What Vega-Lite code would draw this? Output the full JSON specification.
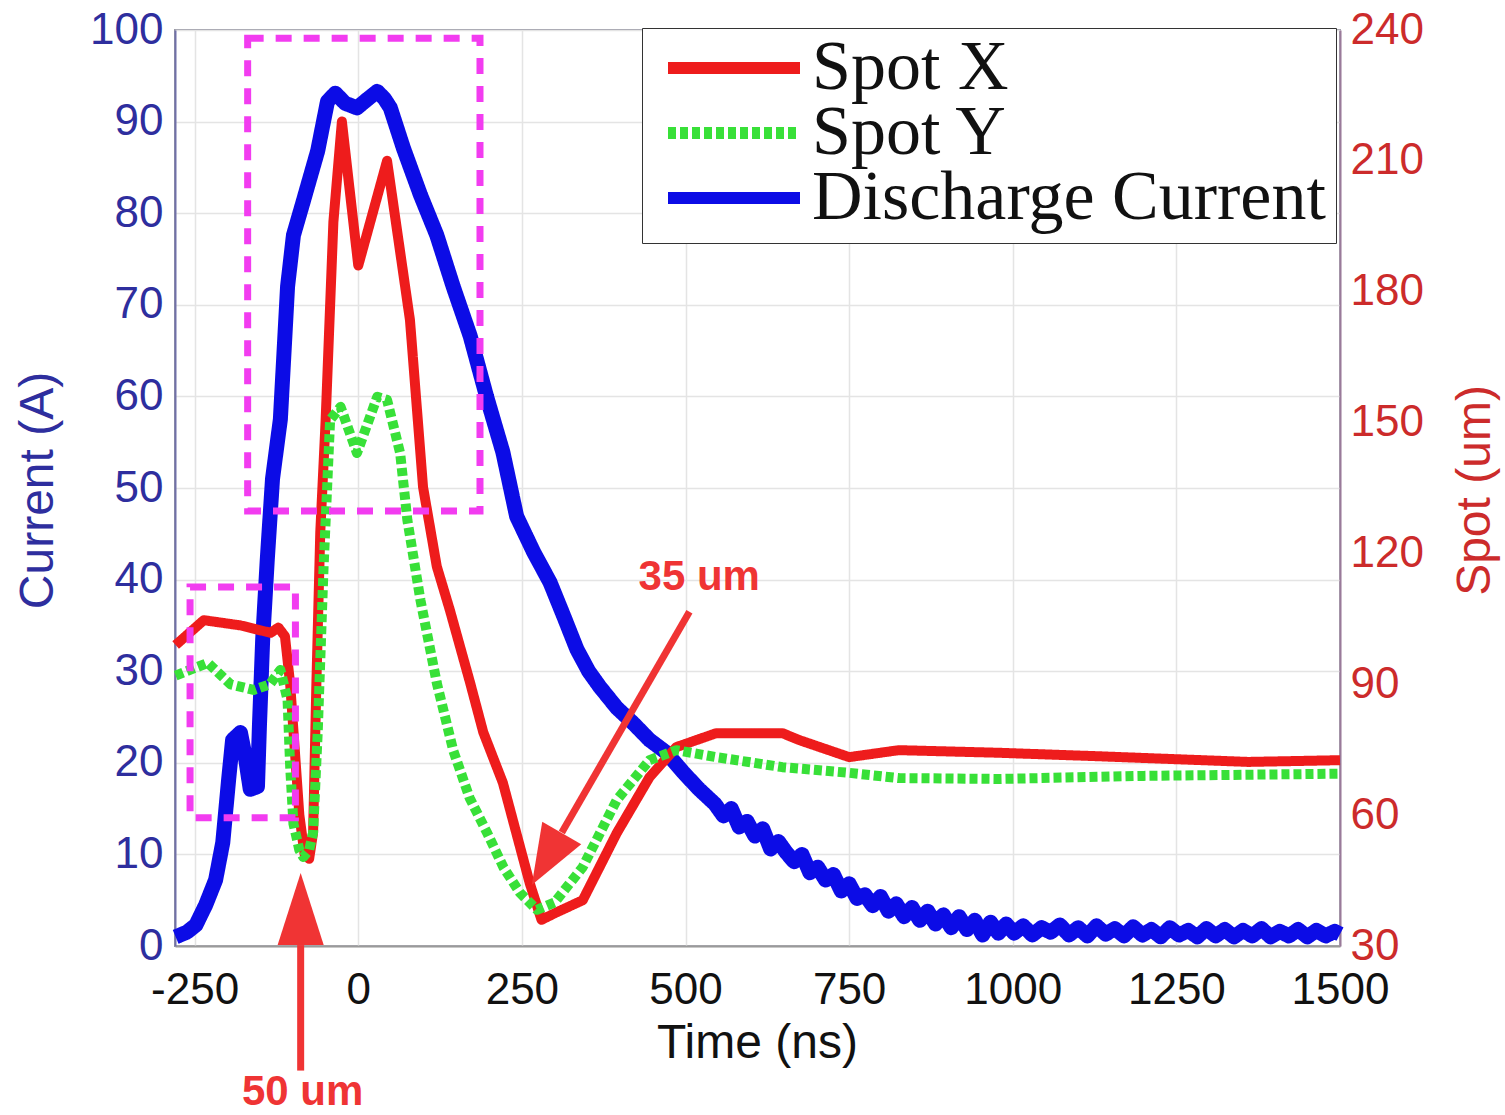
{
  "$schema": "https://vega.github.io/schema/vega-lite/v6.json",
  "width": 1165,
  "height": 916,
  "autosize": "none",
  "padding": {"left": 175, "top": 30, "right": 165, "bottom": 169},
  "background": "white",
  "config": {
    "view": {"stroke": "#9a9aa6", "strokeWidth": 2},
    "axis": {
      "labelFont": "Liberation Sans",
      "labelFontSize": 44,
      "titleFont": "Liberation Sans",
      "titleFontSize": 48,
      "titleFontWeight": "normal",
      "gridColor": "#e4e4e4",
      "gridWidth": 1.5,
      "ticks": false,
      "labelFlush": false,
      "labelOverlap": false,
      "domainWidth": 2
    }
  },
  "datasets": {
    "current": [
      {"series": "Discharge Current", "t": -279, "v": 1.0},
      {"series": "Discharge Current", "t": -262, "v": 1.5},
      {"series": "Discharge Current", "t": -248, "v": 2.3},
      {"series": "Discharge Current", "t": -233, "v": 4.5},
      {"series": "Discharge Current", "t": -218, "v": 7.2},
      {"series": "Discharge Current", "t": -207, "v": 11.3},
      {"series": "Discharge Current", "t": -198, "v": 18.2},
      {"series": "Discharge Current", "t": -192, "v": 22.5},
      {"series": "Discharge Current", "t": -180, "v": 23.3},
      {"series": "Discharge Current", "t": -172, "v": 20.4},
      {"series": "Discharge Current", "t": -165, "v": 17.1},
      {"series": "Discharge Current", "t": -154, "v": 17.4},
      {"series": "Discharge Current", "t": -151, "v": 24},
      {"series": "Discharge Current", "t": -146, "v": 33.5},
      {"series": "Discharge Current", "t": -139, "v": 42.2},
      {"series": "Discharge Current", "t": -131, "v": 51},
      {"series": "Discharge Current", "t": -119, "v": 57.5},
      {"series": "Discharge Current", "t": -108, "v": 72},
      {"series": "Discharge Current", "t": -99, "v": 77.6},
      {"series": "Discharge Current", "t": -84, "v": 81.3},
      {"series": "Discharge Current", "t": -62, "v": 86.8},
      {"series": "Discharge Current", "t": -47, "v": 92.2},
      {"series": "Discharge Current", "t": -35, "v": 93.1},
      {"series": "Discharge Current", "t": -20, "v": 92},
      {"series": "Discharge Current", "t": -2, "v": 91.5},
      {"series": "Discharge Current", "t": 15, "v": 92.5},
      {"series": "Discharge Current", "t": 29, "v": 93.3},
      {"series": "Discharge Current", "t": 40, "v": 92.5},
      {"series": "Discharge Current", "t": 49, "v": 91.5},
      {"series": "Discharge Current", "t": 69, "v": 87.1},
      {"series": "Discharge Current", "t": 95, "v": 82},
      {"series": "Discharge Current", "t": 120, "v": 77.6},
      {"series": "Discharge Current", "t": 145, "v": 72},
      {"series": "Discharge Current", "t": 171, "v": 66.6},
      {"series": "Discharge Current", "t": 196, "v": 60},
      {"series": "Discharge Current", "t": 221, "v": 53.9},
      {"series": "Discharge Current", "t": 242, "v": 46.9},
      {"series": "Discharge Current", "t": 268, "v": 43},
      {"series": "Discharge Current", "t": 293, "v": 39.7},
      {"series": "Discharge Current", "t": 314, "v": 36},
      {"series": "Discharge Current", "t": 334, "v": 32.4},
      {"series": "Discharge Current", "t": 352, "v": 30},
      {"series": "Discharge Current", "t": 369, "v": 28.3},
      {"series": "Discharge Current", "t": 395, "v": 26},
      {"series": "Discharge Current", "t": 419, "v": 24.4},
      {"series": "Discharge Current", "t": 445, "v": 22.5},
      {"series": "Discharge Current", "t": 471, "v": 21.1},
      {"series": "Discharge Current", "t": 496, "v": 19},
      {"series": "Discharge Current", "t": 521, "v": 17.1},
      {"series": "Discharge Current", "t": 545, "v": 15.5},
      {"series": "Discharge Current", "t": 558, "v": 14.2},
      {"series": "Discharge Current", "t": 570, "v": 15},
      {"series": "Discharge Current", "t": 582, "v": 13},
      {"series": "Discharge Current", "t": 594, "v": 13.6},
      {"series": "Discharge Current", "t": 606, "v": 12},
      {"series": "Discharge Current", "t": 618, "v": 12.8},
      {"series": "Discharge Current", "t": 630, "v": 10.6},
      {"series": "Discharge Current", "t": 642, "v": 11.4},
      {"series": "Discharge Current", "t": 654, "v": 10.2},
      {"series": "Discharge Current", "t": 666, "v": 9.2},
      {"series": "Discharge Current", "t": 678, "v": 10},
      {"series": "Discharge Current", "t": 690, "v": 8},
      {"series": "Discharge Current", "t": 702, "v": 8.6},
      {"series": "Discharge Current", "t": 714, "v": 7.2},
      {"series": "Discharge Current", "t": 726, "v": 7.8},
      {"series": "Discharge Current", "t": 738, "v": 6},
      {"series": "Discharge Current", "t": 750, "v": 6.8},
      {"series": "Discharge Current", "t": 762, "v": 5.2},
      {"series": "Discharge Current", "t": 774, "v": 5.6},
      {"series": "Discharge Current", "t": 786, "v": 4.4},
      {"series": "Discharge Current", "t": 798, "v": 5.4},
      {"series": "Discharge Current", "t": 810, "v": 3.8},
      {"series": "Discharge Current", "t": 822, "v": 4.6},
      {"series": "Discharge Current", "t": 834, "v": 3.2},
      {"series": "Discharge Current", "t": 846, "v": 4.2},
      {"series": "Discharge Current", "t": 858, "v": 2.8},
      {"series": "Discharge Current", "t": 870, "v": 3.8},
      {"series": "Discharge Current", "t": 882, "v": 2.4},
      {"series": "Discharge Current", "t": 894, "v": 3.4},
      {"series": "Discharge Current", "t": 906, "v": 2},
      {"series": "Discharge Current", "t": 918, "v": 3.2},
      {"series": "Discharge Current", "t": 930, "v": 1.8},
      {"series": "Discharge Current", "t": 942, "v": 2.8},
      {"series": "Discharge Current", "t": 954, "v": 1.2},
      {"series": "Discharge Current", "t": 966, "v": 2.6},
      {"series": "Discharge Current", "t": 978, "v": 1.4},
      {"series": "Discharge Current", "t": 990, "v": 2.4},
      {"series": "Discharge Current", "t": 1002, "v": 1.4},
      {"series": "Discharge Current", "t": 1016, "v": 2.2},
      {"series": "Discharge Current", "t": 1030, "v": 1.2},
      {"series": "Discharge Current", "t": 1044, "v": 2},
      {"series": "Discharge Current", "t": 1058, "v": 1.5},
      {"series": "Discharge Current", "t": 1072, "v": 2.3},
      {"series": "Discharge Current", "t": 1086, "v": 1.2},
      {"series": "Discharge Current", "t": 1100, "v": 2},
      {"series": "Discharge Current", "t": 1114, "v": 1.1},
      {"series": "Discharge Current", "t": 1128, "v": 2.2},
      {"series": "Discharge Current", "t": 1142, "v": 1.3},
      {"series": "Discharge Current", "t": 1156, "v": 1.9},
      {"series": "Discharge Current", "t": 1170, "v": 1.1},
      {"series": "Discharge Current", "t": 1184, "v": 2.1},
      {"series": "Discharge Current", "t": 1198, "v": 1.2},
      {"series": "Discharge Current", "t": 1212, "v": 1.8},
      {"series": "Discharge Current", "t": 1226, "v": 1},
      {"series": "Discharge Current", "t": 1240, "v": 2},
      {"series": "Discharge Current", "t": 1254, "v": 1.2},
      {"series": "Discharge Current", "t": 1268, "v": 1.7},
      {"series": "Discharge Current", "t": 1282, "v": 1},
      {"series": "Discharge Current", "t": 1296, "v": 1.9},
      {"series": "Discharge Current", "t": 1310, "v": 1.1},
      {"series": "Discharge Current", "t": 1324, "v": 1.8},
      {"series": "Discharge Current", "t": 1338, "v": 1},
      {"series": "Discharge Current", "t": 1352, "v": 1.7},
      {"series": "Discharge Current", "t": 1366, "v": 1.1},
      {"series": "Discharge Current", "t": 1380, "v": 1.9},
      {"series": "Discharge Current", "t": 1394, "v": 1},
      {"series": "Discharge Current", "t": 1408, "v": 1.6},
      {"series": "Discharge Current", "t": 1422, "v": 1.1},
      {"series": "Discharge Current", "t": 1436, "v": 1.8},
      {"series": "Discharge Current", "t": 1450, "v": 1},
      {"series": "Discharge Current", "t": 1464, "v": 1.7},
      {"series": "Discharge Current", "t": 1478, "v": 1.1},
      {"series": "Discharge Current", "t": 1492, "v": 1.6},
      {"series": "Discharge Current", "t": 1500, "v": 1.3}
    ],
    "spot": [
      {"series": "Spot X", "t": -279, "v": 99},
      {"series": "Spot X", "t": -236, "v": 104.7},
      {"series": "Spot X", "t": -180, "v": 103.5},
      {"series": "Spot X", "t": -134, "v": 101.8},
      {"series": "Spot X", "t": -122, "v": 103},
      {"series": "Spot X", "t": -112, "v": 101},
      {"series": "Spot X", "t": -104, "v": 90},
      {"series": "Spot X", "t": -97, "v": 75},
      {"series": "Spot X", "t": -90, "v": 60},
      {"series": "Spot X", "t": -82, "v": 51},
      {"series": "Spot X", "t": -75, "v": 50},
      {"series": "Spot X", "t": -69, "v": 56},
      {"series": "Spot X", "t": -64, "v": 90},
      {"series": "Spot X", "t": -58, "v": 125},
      {"series": "Spot X", "t": -50, "v": 150},
      {"series": "Spot X", "t": -38, "v": 196},
      {"series": "Spot X", "t": -25, "v": 219},
      {"series": "Spot X", "t": 0, "v": 186},
      {"series": "Spot X", "t": 44, "v": 210},
      {"series": "Spot X", "t": 79, "v": 173.5},
      {"series": "Spot X", "t": 99, "v": 135.2},
      {"series": "Spot X", "t": 120, "v": 117},
      {"series": "Spot X", "t": 140, "v": 107},
      {"series": "Spot X", "t": 171, "v": 90.3},
      {"series": "Spot X", "t": 191, "v": 79},
      {"series": "Spot X", "t": 221, "v": 67.4},
      {"series": "Spot X", "t": 262, "v": 44.4},
      {"series": "Spot X", "t": 280, "v": 36},
      {"series": "Spot X", "t": 300, "v": 37.5},
      {"series": "Spot X", "t": 343, "v": 40.5},
      {"series": "Spot X", "t": 395, "v": 55.9},
      {"series": "Spot X", "t": 445, "v": 68.7},
      {"series": "Spot X", "t": 486, "v": 75.6},
      {"series": "Spot X", "t": 547, "v": 78.8},
      {"series": "Spot X", "t": 648, "v": 78.8},
      {"series": "Spot X", "t": 674, "v": 77.2},
      {"series": "Spot X", "t": 750, "v": 73.3},
      {"series": "Spot X", "t": 826, "v": 74.9},
      {"series": "Spot X", "t": 979, "v": 74.3},
      {"series": "Spot X", "t": 1131, "v": 73.5},
      {"series": "Spot X", "t": 1360, "v": 72.2},
      {"series": "Spot X", "t": 1500, "v": 72.6},
      {"series": "Spot Y", "t": -279, "v": 92},
      {"series": "Spot Y", "t": -230, "v": 94.9},
      {"series": "Spot Y", "t": -195, "v": 90},
      {"series": "Spot Y", "t": -160, "v": 88.7},
      {"series": "Spot Y", "t": -135, "v": 90},
      {"series": "Spot Y", "t": -119, "v": 93.3},
      {"series": "Spot Y", "t": -108, "v": 86.4},
      {"series": "Spot Y", "t": -104, "v": 71},
      {"series": "Spot Y", "t": -99, "v": 58},
      {"series": "Spot Y", "t": -90, "v": 52},
      {"series": "Spot Y", "t": -84, "v": 50.4},
      {"series": "Spot Y", "t": -75, "v": 52},
      {"series": "Spot Y", "t": -69, "v": 56},
      {"series": "Spot Y", "t": -62, "v": 78.8},
      {"series": "Spot Y", "t": -53, "v": 116.9},
      {"series": "Spot Y", "t": -43, "v": 150.6},
      {"series": "Spot Y", "t": -27, "v": 153.6},
      {"series": "Spot Y", "t": -2, "v": 143},
      {"series": "Spot Y", "t": 29, "v": 155.9},
      {"series": "Spot Y", "t": 44, "v": 155.2},
      {"series": "Spot Y", "t": 64, "v": 143},
      {"series": "Spot Y", "t": 75, "v": 127.7},
      {"series": "Spot Y", "t": 95, "v": 109.3},
      {"series": "Spot Y", "t": 120, "v": 90.3},
      {"series": "Spot Y", "t": 145, "v": 74.9},
      {"series": "Spot Y", "t": 170, "v": 64},
      {"series": "Spot Y", "t": 197, "v": 55.9},
      {"series": "Spot Y", "t": 222, "v": 48},
      {"series": "Spot Y", "t": 247, "v": 42.2},
      {"series": "Spot Y", "t": 273, "v": 38.3},
      {"series": "Spot Y", "t": 300, "v": 40},
      {"series": "Spot Y", "t": 343, "v": 48.1},
      {"series": "Spot Y", "t": 395, "v": 63.5},
      {"series": "Spot Y", "t": 445, "v": 72.6},
      {"series": "Spot Y", "t": 486, "v": 74.9},
      {"series": "Spot Y", "t": 547, "v": 73.3},
      {"series": "Spot Y", "t": 648, "v": 71},
      {"series": "Spot Y", "t": 750, "v": 69.7},
      {"series": "Spot Y", "t": 826, "v": 68.5},
      {"series": "Spot Y", "t": 979, "v": 68.3},
      {"series": "Spot Y", "t": 1200, "v": 69},
      {"series": "Spot Y", "t": 1500, "v": 69.5}
    ],
    "boxes": [
      {"t1": -169, "t2": 186, "i1": 47.5, "i2": 99.1},
      {"t1": -257, "t2": -96, "i1": 14.0, "i2": 39.2}
    ],
    "shafts": [
      {"t1": -88, "t2": -88, "i1": 0.1, "i2": -13.6},
      {"t1": 506, "t2": 311, "i1": 36.5, "i2": 12.4}
    ],
    "headUp": [{"t": -88, "i": 4.05}],
    "headDiag": [{"t": 288, "i": 9.5}],
    "notes": [
      {"t": 521, "i": 40.3, "text": "35 um"},
      {"t": -85, "i": -15.9, "text": "50 um"}
    ]
  },
  "layer": [
    {
      "data": {"name": "current"},
      "mark": {"type": "line", "strokeWidth": 15, "strokeJoin": "round"},
      "encoding": {
        "x": {
          "field": "t", "type": "quantitative", "title": "Time (ns)",
          "scale": {"domain": [-280, 1500], "nice": false, "zero": false},
          "axis": {
            "values": [-250, 0, 250, 500, 750, 1000, 1250, 1500],
            "format": "d",
            "labelExpr": "replace(datum.label, '\u2212', '-')",
            "labelColor": "#111111", "titleColor": "#111111",
            "domainColor": "#9a9a9a", "labelPadding": 22,
            "titleX": 582, "titleY": 97, "titleBaseline": "middle", "titleAlign": "center",
            "grid": true
          }
        },
        "y": {
          "field": "v", "type": "quantitative", "title": "Current (A)",
          "scale": {"domain": [0, 100], "nice": false},
          "axis": {
            "orient": "left",
            "values": [0, 10, 20, 30, 40, 50, 60, 70, 80, 90, 100],
            "labelColor": "#2e2e9e", "titleColor": "#2e2e9e",
            "domainColor": "#7070a8", "labelPadding": 12,
            "titleX": -137, "titleY": 460, "titleBaseline": "middle", "titleAlign": "center", "titleAngle": 270,
            "grid": true
          }
        },
        "color": {
          "field": "series", "type": "nominal",
          "scale": {"domain": ["Spot X", "Spot Y", "Discharge Current"], "range": ["#ee1c1c", "#38e038", "#0c0ce6"]},
          "legend": {
            "orient": "none", "legendX": 467, "legendY": -2, "title": null,
            "symbolType": "stroke", "symbolSize": 17424, "symbolStrokeWidth": 12,
            "clipHeight": 60, "rowPadding": -8,
            "labelFont": "Liberation Serif", "labelFontSize": 70, "labelColor": "#111111", "labelLimit": 800,
            "labelOffset": 6, "padding": 10, "symbolOffset": 10,
            "fillColor": "white", "strokeColor": "#333333"
          }
        },
        "strokeDash": {
          "field": "series", "type": "nominal",
          "scale": {"domain": ["Spot X", "Spot Y", "Discharge Current"], "range": [[1, 0], [8, 4], [1, 0]]},
          "legend": {
            "orient": "none", "legendX": 467, "legendY": -2, "title": null,
            "symbolType": "stroke", "symbolSize": 17424, "symbolStrokeWidth": 12,
            "clipHeight": 60, "rowPadding": -8,
            "labelFont": "Liberation Serif", "labelFontSize": 70, "labelColor": "#111111", "labelLimit": 800,
            "labelOffset": 6, "padding": 10, "symbolOffset": 10,
            "fillColor": "white", "strokeColor": "#333333"
          }
        }
      }
    },
    {
      "data": {"name": "spot"},
      "mark": {"type": "line", "strokeWidth": 10, "strokeJoin": "round", "strokeCap": "butt"},
      "encoding": {
        "x": {"field": "t", "type": "quantitative", "title": "Time (ns)"},
        "y": {
          "field": "v", "type": "quantitative", "title": "Spot (um)",
          "scale": {"domain": [30, 240], "nice": false, "zero": false},
          "axis": {
            "orient": "right",
            "values": [30, 60, 90, 120, 150, 180, 210, 240],
            "labelColor": "#cc2b2b", "titleColor": "#cc2b2b",
            "domainColor": "#9a7a9a", "labelPadding": 10,
            "titleX": 135, "titleY": 460, "titleBaseline": "middle", "titleAlign": "center", "titleAngle": 270,
            "grid": false
          }
        },
        "color": {"field": "series", "type": "nominal"},
        "strokeDash": {"field": "series", "type": "nominal"}
      }
    },
    {
      "layer": [
        {
          "data": {"name": "boxes"},
          "mark": {"type": "rect", "fillOpacity": 0, "stroke": "#f23cf0", "strokeWidth": 7, "strokeDash": [16, 12]},
          "encoding": {
            "x": {"field": "t1", "type": "quantitative", "title": "Time (ns)"},
            "x2": {"field": "t2"},
            "y": {"field": "i1", "type": "quantitative", "scale": {"domain": [0, 100], "nice": false}, "axis": null},
            "y2": {"field": "i2"}
          }
        },
        {
          "data": {"name": "shafts"},
          "mark": {"type": "rule", "stroke": "#f03434", "strokeWidth": 7},
          "encoding": {
            "x": {"field": "t1", "type": "quantitative", "title": "Time (ns)"},
            "x2": {"field": "t2"},
            "y": {"field": "i1", "type": "quantitative", "axis": null},
            "y2": {"field": "i2"}
          }
        },
        {
          "data": {"name": "headUp"},
          "mark": {"type": "point", "shape": "M0,-1L0.64,1L-0.64,1Z", "size": 5184, "filled": true, "color": "#f03434", "opacity": 1},
          "encoding": {
            "x": {"field": "t", "type": "quantitative", "title": "Time (ns)"},
            "y": {"field": "i", "type": "quantitative", "axis": null}
          }
        },
        {
          "data": {"name": "headDiag"},
          "mark": {"type": "point", "shape": "M0,-1L0.75,1L-0.75,1Z", "size": 3600, "angle": 210, "filled": true, "color": "#f03434", "opacity": 1},
          "encoding": {
            "x": {"field": "t", "type": "quantitative", "title": "Time (ns)"},
            "y": {"field": "i", "type": "quantitative", "axis": null}
          }
        },
        {
          "data": {"name": "notes"},
          "mark": {"type": "text", "font": "Liberation Sans", "fontSize": 42, "fontWeight": "bold", "color": "#ef3434", "align": "center", "baseline": "middle"},
          "encoding": {
            "x": {"field": "t", "type": "quantitative", "title": "Time (ns)"},
            "y": {"field": "i", "type": "quantitative", "axis": null},
            "text": {"field": "text"}
          }
        }
      ]
    }
  ],
  "resolve": {"scale": {"y": "independent"}}
}
